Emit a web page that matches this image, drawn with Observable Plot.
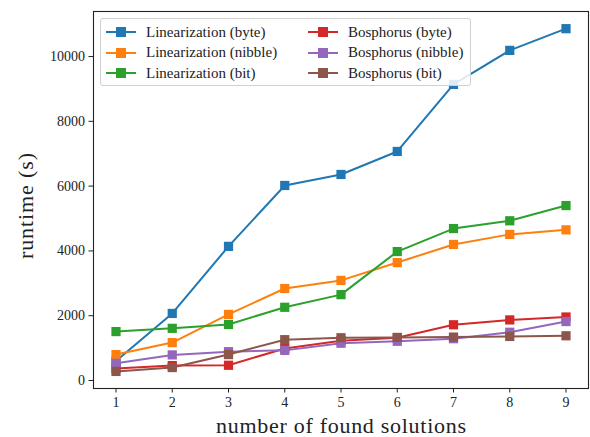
<!DOCTYPE html>
<html>
<head>
<meta charset="utf-8">
<script src="https://cdn.jsdelivr.net/npm/d3@7"></script>
<script src="https://cdn.jsdelivr.net/npm/@observablehq/plot@0.6"></script>
<style>
  html, body { margin: 0; padding: 0; background: #fff; }
  #wrap { position: relative; width: 590px; height: 437px; font-family: "Liberation Serif", "DejaVu Serif", serif; }
  #legend { position: absolute; left: 100px; top: 18px; width: 371px; height: 68px; box-sizing: border-box;
    border: 1px solid #d0d0d0; border-radius: 3px; background: rgba(255,255,255,0.85);
    display: grid; grid-template-columns: 202px 165px; grid-auto-flow: column; grid-template-rows: repeat(3, 20.5px);
    padding: 3px 0 0 5px; font-size: 15px; color: #222; }
  .item { display: flex; align-items: center; white-space: nowrap; }
  .sw { width: 30px; height: 10px; position: relative; margin-right: 10px; }
  .sw .ln { position: absolute; left: 0; right: 0; top: 4px; height: 2px; }
  .sw .mk { position: absolute; left: 10px; top: 0; width: 10px; height: 10px; }
</style>
</head>
<body>
<div id="wrap"><div id="chart"></div><div id="legend"></div></div>
<script>
const solutions = [1, 2, 3, 4, 5, 6, 7, 8, 9];
const seriesNames = [
  "Linearization (byte)", "Linearization (nibble)", "Linearization (bit)",
  "Bosphorus (byte)", "Bosphorus (nibble)", "Bosphorus (bit)"
];
const seriesColors = ["#1f77b4", "#ff7f0e", "#2ca02c", "#d62728", "#9467bd", "#8c564b"];
const linByte   = [600, 2070, 4140, 6020, 6360, 7070, 9140, 10190, 10860];
const linNibble = [800, 1170, 2040, 2840, 3090, 3640, 4200, 4510, 4650];
const linBit    = [1510, 1610, 1730, 2260, 2650, 3980, 4690, 4930, 5400];
const bosByte   = [370, 460, 470, 990, 1230, 1320, 1720, 1870, 1960];
const bosNibble = [530, 790, 890, 930, 1150, 1210, 1290, 1490, 1820];
const bosBit    = [280, 400, 800, 1260, 1320, 1330, 1340, 1360, 1380];
const yTicks = [0, 2000, 4000, 6000, 8000, 10000];
const xLabel = "number of found solutions";
const yLabel = "runtime (s)";

const seriesValues = [linByte, linNibble, linBit, bosByte, bosNibble, bosBit];
const data = [];
seriesNames.forEach((name, i) => {
  seriesValues[i].forEach((v, j) => data.push({series: name, x: solutions[j], y: v}));
});

const plot = Plot.plot({
  width: 590,
  height: 437,
  marginLeft: 93,
  marginRight: 2,
  marginTop: 11,
  marginBottom: 49,
  style: { fontFamily: "Liberation Serif, DejaVu Serif, serif", fontSize: "14px", color: "#222" },
  x: { domain: [0.6, 9.4], label: null },
  y: { domain: [-247, 11390], label: null },
  color: { domain: seriesNames, range: seriesColors },
  marks: [
    Plot.line(data, { x: "x", y: "y", z: "series", stroke: "series", strokeWidth: 2 }),
    Plot.dot(data, { x: "x", y: "y", fill: "series", symbol: "square", r: 5.2, stroke: "none" }),
    Plot.frame({ stroke: "#222", strokeWidth: 1.1 }),
    Plot.axisX({ ticks: solutions, tickFormat: d => String(d), tickSize: 4.5, tickPadding: 4, label: null, fontSize: 14 }),
    Plot.axisY({ ticks: yTicks, tickFormat: d => String(d), tickSize: 4.5, tickPadding: 4, label: null, fontSize: 14 }),
    Plot.text([xLabel], { frameAnchor: "bottom", dy: 44, fontSize: 22, fill: "#222" }),
    Plot.text([yLabel], { frameAnchor: "left", textAnchor: "middle", lineAnchor: "middle", dx: -68, dy: 6, rotate: -90, fontSize: 22, fill: "#222" })
  ]
});
const sel = d3.select(plot).selectAll("text");
sel.filter(function() { return this.textContent === xLabel; }).attr("textLength", 250).attr("lengthAdjust", "spacing");
sel.filter(function() { return this.textContent === yLabel; }).attr("textLength", 106).attr("lengthAdjust", "spacing");
document.getElementById("chart").appendChild(plot);

const legend = document.getElementById("legend");
seriesNames.forEach((name, i) => {
  const it = document.createElement("div");
  it.className = "item";
  it.innerHTML = `<div class="sw"><div class="ln" style="background:${seriesColors[i]}"></div><div class="mk" style="background:${seriesColors[i]}"></div></div><span>${name}</span>`;
  legend.appendChild(it);
});
</script>
</body>
</html>
